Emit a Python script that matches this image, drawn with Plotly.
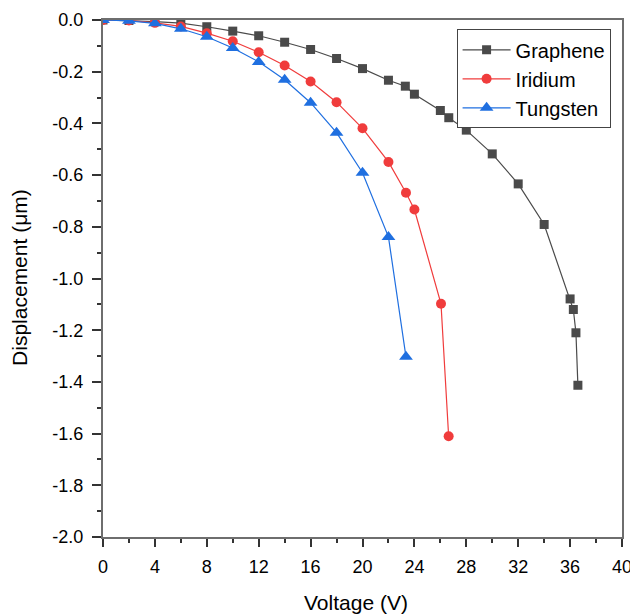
import plotly.graph_objects as go

voltage_graphene = [0, 2, 4, 6, 8, 10, 12, 14, 16, 18, 20, 22, 23.3, 24, 26, 26.65, 28, 30, 32, 34, 36, 36.25, 36.45, 36.6]
disp_graphene = [0, -0.002, -0.006, -0.012, -0.026, -0.043, -0.061, -0.086, -0.114, -0.149, -0.188, -0.233,
                 -0.256, -0.287, -0.350, -0.378, -0.426, -0.518, -0.634, -0.791, -1.079, -1.120, -1.210, -1.413]

voltage_iridium = [0, 2, 4, 6, 8, 10, 12, 14, 16, 18, 20, 22, 23.35, 24, 26.05, 26.64]
disp_iridium = [0, -0.002, -0.011, -0.025, -0.051, -0.082, -0.125, -0.176, -0.238, -0.318, -0.419, -0.549,
                -0.668, -0.733, -1.098, -1.610]

voltage_tungsten = [0, 2, 4, 6, 8, 10, 12, 14, 16, 18, 20, 22, 23.35]
disp_tungsten = [0, -0.003, -0.013, -0.034, -0.065, -0.108, -0.162, -0.231, -0.320, -0.436, -0.591, -0.839, -1.303]

x_ticks = [0, 4, 8, 12, 16, 20, 24, 28, 32, 36, 40]
y_ticks = [0.0, -0.2, -0.4, -0.6, -0.8, -1.0, -1.2, -1.4, -1.6, -1.8, -2.0]
y_tick_labels = ["0.0", "-0.2", "-0.4", "-0.6", "-0.8", "-1.0", "-1.2", "-1.4", "-1.6", "-1.8", "-2.0"]

AXIS_COLOR = "#6e6e6e"
TICK_COLOR = "#333333"
FONT = "Liberation Sans, Arial, sans-serif"

fig = go.Figure()
fig.add_trace(go.Scatter(
    x=voltage_graphene, y=disp_graphene, name="Graphene", mode="lines+markers",
    line=dict(color="#4a4a4a", width=1.2),
    marker=dict(symbol="square", size=9, color="#4a4a4a"),
))
fig.add_trace(go.Scatter(
    x=voltage_iridium, y=disp_iridium, name="Iridium", mode="lines+markers",
    line=dict(color="#f03c3c", width=1.2),
    marker=dict(symbol="circle", size=10, color="#f03c3c"),
))
fig.add_trace(go.Scatter(
    x=voltage_tungsten, y=disp_tungsten, name="Tungsten", mode="lines+markers",
    line=dict(color="#1f6fe0", width=1.2),
    marker=dict(symbol="triangle-up", size=12, color="#1f6fe0"),
))

fig.update_layout(
    width=630, height=614,
    margin=dict(l=103, r=8, t=20, b=77, pad=0),
    paper_bgcolor="white", plot_bgcolor="white",
    font=dict(family=FONT, size=18, color="black"),
    showlegend=True,
    legend=dict(
        x=0.978, y=0.982, xanchor="right", yanchor="top",
        bordercolor="#444444", borderwidth=1, bgcolor="white",
        font=dict(size=20), tracegroupgap=0, itemwidth=48,
    ),
    xaxis=dict(
        range=[0, 40], tickvals=x_ticks, showgrid=False, zeroline=False, automargin=False,
        showline=True, linecolor=AXIS_COLOR, linewidth=2, mirror=True,
        ticks="outside", ticklen=8, tickwidth=1.5, tickcolor=TICK_COLOR, ticklabelstandoff=4,
        ticklabeloverflow="allow",
        minor=dict(dtick=2, ticks="outside", ticklen=4, tickcolor=TICK_COLOR, tickwidth=1.5, showgrid=False),
        tickfont=dict(size=18),
    ),
    yaxis=dict(
        range=[-2.0, 0.0], tickvals=y_ticks, ticktext=y_tick_labels, showgrid=False, zeroline=False,
        automargin=False,
        showline=True, linecolor=AXIS_COLOR, linewidth=2, mirror=True,
        ticks="outside", ticklen=9, tickwidth=1.5, tickcolor=TICK_COLOR, ticklabelstandoff=5,
        ticklabeloverflow="allow",
        minor=dict(dtick=0.1, tick0=0, ticks="outside", ticklen=4, tickcolor=TICK_COLOR, tickwidth=1.5, showgrid=False),
        tickfont=dict(size=18),
    ),
    annotations=[
        dict(text="Voltage (V)", xref="paper", yref="paper", x=0.487, y=-0.126,
             xanchor="center", yanchor="middle", showarrow=False, font=dict(size=21)),
        dict(text="Displacement (μm)", xref="paper", yref="paper", x=-0.16, y=0.503,
             xanchor="center", yanchor="middle", textangle=-90, showarrow=False, font=dict(size=21)),
    ],
)

# remove the default page margin so the 630x614 figure fills the window exactly
fig.write_html(
    "out.html",
    config={"displayModeBar": False},
    post_script="document.body.style.margin='0';document.body.style.overflow='hidden';",
)
